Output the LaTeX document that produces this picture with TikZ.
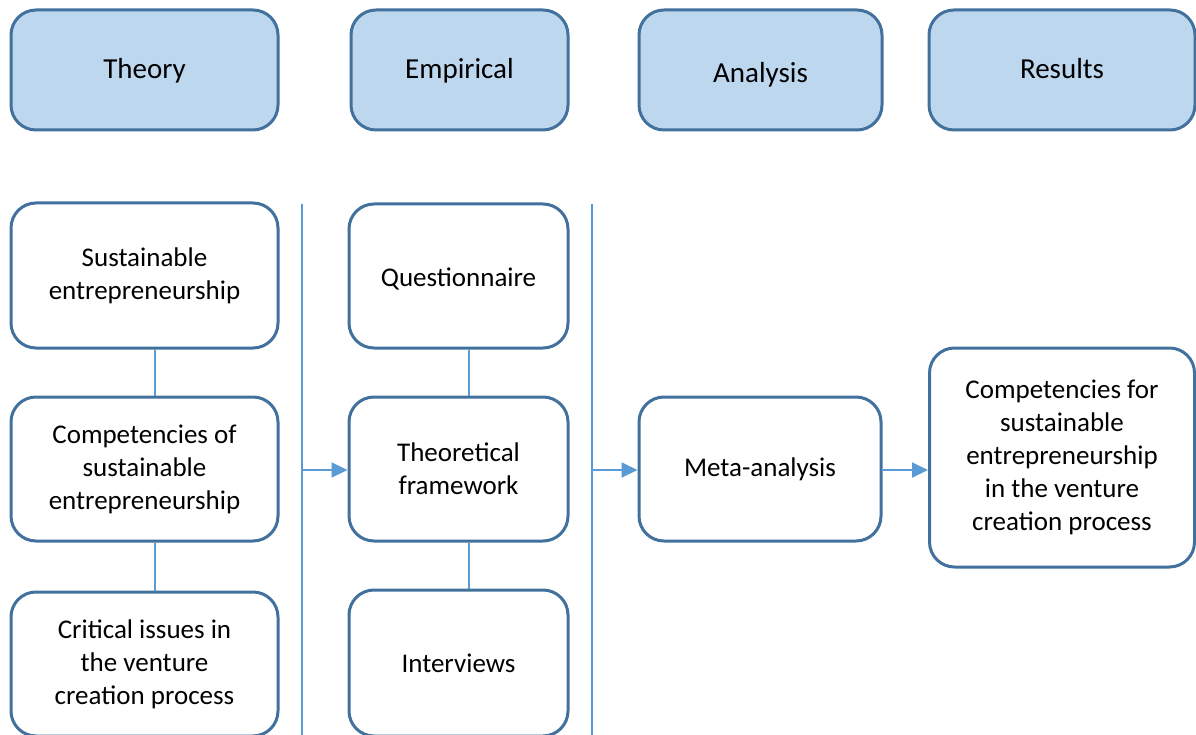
\documentclass[tikz,border=0pt]{standalone}
\usepackage{fontspec}
\setmainfont{Carlito}
\usetikzlibrary{arrows.meta}
\definecolor{boxblue}{HTML}{41719C}
\definecolor{hdrfill}{HTML}{BDD7EE}
\definecolor{linkblue}{HTML}{5B9BD5}
\begin{document}
\begin{tikzpicture}[x=1pt,y=-1pt,
  basebox/.style={draw=boxblue, line width=3pt, rounded corners=25pt, align=center,
    font=\fontsize{27}{33}\selectfont, inner sep=0pt},
  hdr/.style={basebox, fill=hdrfill, font=\fontsize{29}{35}\selectfont, text height=22pt, text depth=4pt},
  wbox/.style={basebox, fill=white},
  link/.style={draw=linkblue, line width=2pt},
  arr/.style={link, -{Triangle[length=16pt,width=15pt]}}]
\useasboundingbox (0,0) rectangle (1196,735);
% headers
\node[hdr, minimum width=267pt, minimum height=120pt] (theory) at (144.5,70) {Theory};
\node[hdr, minimum width=217pt, minimum height=120pt] (empirical) at (459.5,70) {Empirical};
\node[hdr, minimum width=243pt, minimum height=120pt] (analysis) at (760.5,70) {\raisebox{-4pt}{Analysis}};
\node[hdr, minimum width=266pt, minimum height=120pt] (results) at (1062,70) {Results};
% left column
\node[wbox, minimum width=267pt, minimum height=145pt] (s1) at (144.5,275.5) {Sustainable\\entrepreneurship};
\node[wbox, minimum width=267pt, minimum height=144pt] (s2) at (144.5,469) {Competencies of\\sustainable\\entrepreneurship};
\node[wbox, minimum width=267pt, minimum height=144pt] (s3) at (144.5,664) {Critical issues in\\the venture\\creation process};
% middle column
\node[wbox, minimum width=219pt, minimum height=144pt, text height=24pt, text depth=3pt] (q) at (458.5,276) {Questionnaire};
\node[wbox, minimum width=219pt, minimum height=144pt] (tf) at (458.5,469) {Theoretical\\framework};
\node[wbox, minimum width=219pt, minimum height=146pt] (iv) at (458.5,663) {Interviews};
% analysis and result
\node[wbox, minimum width=242pt, minimum height=144pt] (meta) at (760,469) {Meta-analysis};
\node[wbox, minimum width=265pt, minimum height=219pt] (res) at (1062,457.5) {Competencies for\\sustainable\\entrepreneurship\\in the venture\\creation process};
% separators
\coordinate (sepAt) at (302,204);
\coordinate (sepAb) at (302,736);
\coordinate (sepBt) at (592,204);
\coordinate (sepBb) at (592,736);
\coordinate (arrA) at (302,470);
\coordinate (arrB) at (592,470);
\draw[link] (sepAt) -- (sepAb);
\draw[link] (sepBt) -- (sepBb);
% vertical connectors
\draw[link] ([xshift=10pt]s1.south) -- ([xshift=10pt]s2.north);
\draw[link] ([xshift=10pt]s2.south) -- ([xshift=10pt]s3.north);
\draw[link] ([xshift=10pt]q.south) -- ([xshift=10pt]tf.north);
\draw[link] ([xshift=10pt]tf.south) -- ([xshift=10pt]iv.north);
% arrows
\draw[arr] (arrA) -- (arrA -| tf.west);
\draw[arr] (arrB) -- (arrB -| meta.west);
\draw[arr] (meta.east |- arrB) -- (arrB -| res.west);
\end{tikzpicture}
\end{document}
